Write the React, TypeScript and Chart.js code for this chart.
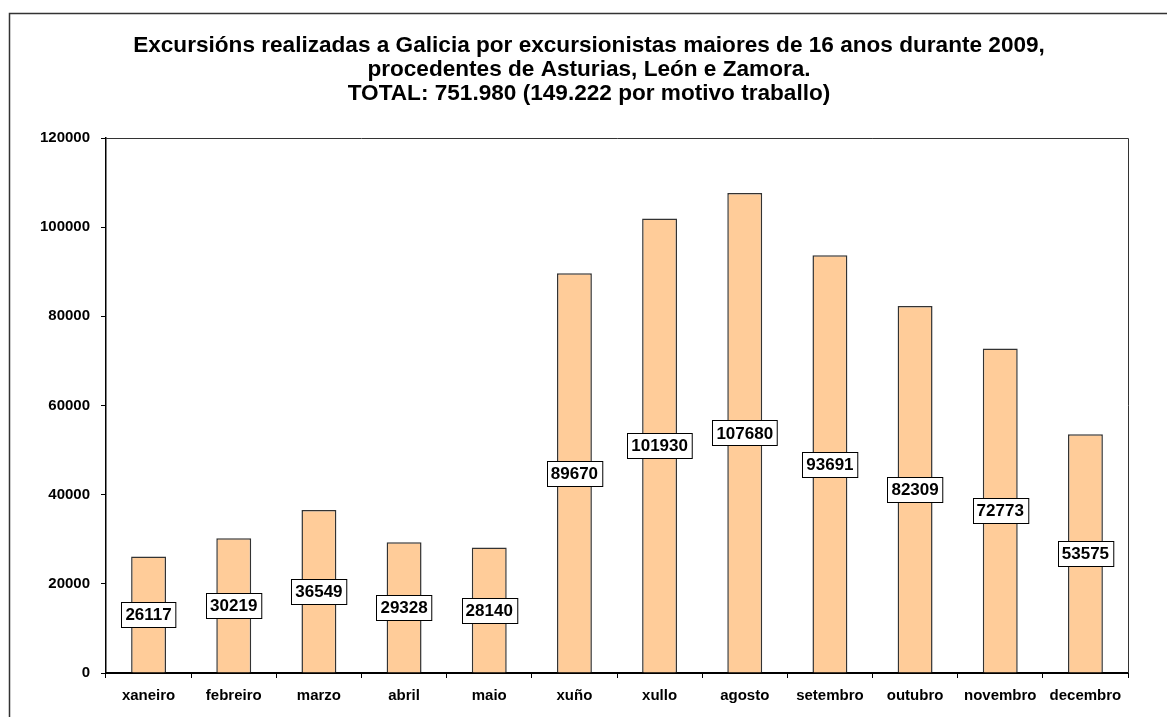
import React, { useEffect, useRef } from "react";
import { Chart, registerables } from "chart.js";

Chart.register(...registerables);

const months = ["xaneiro", "febreiro", "marzo", "abril", "maio", "xuño", "xullo", "agosto", "setembro", "outubro", "novembro", "decembro"];
const excursions = [26117, 30219, 36549, 29328, 28140, 89670, 101930, 107680, 93691, 82309, 72773, 53575];
const titleLines = [
  "Excursións realizadas a Galicia por excursionistas maiores de 16 anos durante 2009,",
  "procedentes de Asturias, León e Zamora.",
  "TOTAL: 751.980 (149.222 por motivo traballo)",
];
const yTicks = [0, 20000, 40000, 60000, 80000, 100000, 120000];

const FONT = "'Liberation Sans', Arial, sans-serif";

const framePlugin = {
  id: "frame",
  beforeDraw(chart: any) {
    const { ctx, width, height } = chart;
    ctx.save();
    ctx.fillStyle = "#fff";
    ctx.fillRect(0, 0, width, height);
    ctx.strokeStyle = "#333";
    ctx.lineWidth = 1.5;
    ctx.beginPath();
    ctx.moveTo(9.5, height + 2);
    ctx.lineTo(9.5, 13.5);
    ctx.lineTo(width + 2, 13.5);
    ctx.stroke();
    // title
    ctx.fillStyle = "#000";
    ctx.font = `bold 22.6px ${FONT}`;
    ctx.textAlign = "center";
    ctx.textBaseline = "alphabetic";
    titleLines.forEach((t, i) => ctx.fillText(t, 589, 52 + i * 24));
    ctx.restore();
  },
  afterDatasetsDraw(chart: any) {
    const { ctx, chartArea } = chart;
    ctx.save();
    // plot area box (top/right)
    ctx.strokeStyle = "#333";
    ctx.lineWidth = 1;
    ctx.beginPath();
    ctx.moveTo(chartArea.left, Math.round(chartArea.top) + 0.5);
    ctx.lineTo(Math.round(chartArea.right) + 0.5, Math.round(chartArea.top) + 0.5);
    ctx.lineTo(Math.round(chartArea.right) + 0.5, chartArea.bottom);
    ctx.stroke();
    // data labels
    const meta = chart.getDatasetMeta(0);
    const yScale = chart.scales.y;
    ctx.font = `bold 17px ${FONT}`;
    ctx.textAlign = "center";
    ctx.textBaseline = "middle";
    meta.data.forEach((bar: any, i: number) => {
      const v = excursions[i];
      const cy = yScale.getPixelForValue(v / 2);
      const txt = String(v);
      const w = ctx.measureText(txt).width + 8;
      const h = 25;
      const x0 = Math.round(bar.x - w / 2) + 0.5;
      const y0 = Math.round(cy - h / 2) + 0.5;
      ctx.fillStyle = "#fff";
      ctx.fillRect(x0, y0, w, h);
      ctx.strokeStyle = "#000";
      ctx.lineWidth = 1;
      ctx.strokeRect(x0, y0, w, h);
      ctx.fillStyle = "#000";
      ctx.fillText(txt, bar.x, cy + 1);
    });
    ctx.restore();
  },
};

export default function App() {
  const ref = useRef<HTMLCanvasElement>(null);
  useEffect(() => {
    const chart = new Chart(ref.current!, {
      type: "bar",
      data: {
        labels: months,
        datasets: [
          {
            data: excursions,
            backgroundColor: "#FFCC99",
            borderColor: "#333",
            borderWidth: 1.5,
            barPercentage: 0.41,
            categoryPercentage: 1,
          },
        ],
      },
      options: {
        responsive: true,
        maintainAspectRatio: false,
        animation: false,
        layout: { padding: { top: 138, right: 39, left: 0, bottom: 0 } },
        plugins: {
          legend: { display: false },
          title: { display: false },
          tooltip: { enabled: false },
        },
        scales: {
          x: {
            grid: { drawOnChartArea: false, drawTicks: true, tickLength: 5, color: "#000", offset: true },
            border: { display: true, color: "#000", width: 2 },
            ticks: { color: "#000", font: { family: FONT, size: 15, weight: "bold" }, padding: 9, maxRotation: 0, autoSkip: false },
            afterFit(scale: any) {
              scale.height = 44;
            },
          },
          y: {
            min: 0,
            max: 120000,
            afterBuildTicks(scale: any) {
              scale.ticks = yTicks.map((v) => ({ value: v }));
            },
            grid: { drawOnChartArea: false, drawTicks: true, tickLength: 5, color: "#000" },
            border: { display: true, color: "#000", width: 1.5 },
            ticks: { color: "#000", font: { family: FONT, size: 15, weight: "bold" }, padding: 11, callback: (v: any) => String(v) },
            afterFit(scale: any) {
              scale.width = 106;
            },
          },
        },
      },
      plugins: [framePlugin],
    });
    return () => chart.destroy();
  }, []);
  return (
    <div style={{ position: "absolute", left: 0, top: 0, width: 1167, height: 717, background: "#fff" }}>
      <canvas ref={ref} />
    </div>
  );
}
